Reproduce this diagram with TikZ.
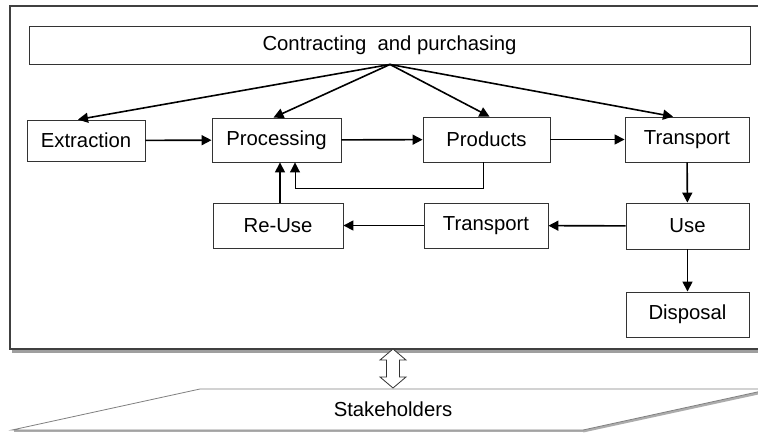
\documentclass[tikz,border=0pt]{standalone}
\usepackage{fontspec}
\setmainfont{Liberation Sans}
\usetikzlibrary{arrows.meta,calc}
\begin{document}
\begin{tikzpicture}[x=1pt,y=-1pt,
  every node/.style={font=\fontsize{20.3}{24}\selectfont},
  box/.style={draw=black!80,line width=0.9pt,fill=white,inner sep=0pt,text=black},
  arr/.style={draw=black,line width=1.6pt,-{Triangle[length=10pt,width=10pt]}},
  ]
\useasboundingbox (0,0) rectangle (758,432);
\clip (0,0) rectangle (758,432);
\fill[white] (0,0) rectangle (758,432);
% outer box with shadow
\draw[gray!75,line width=2.2pt] (12,351.5) -- (780,351.5);
\draw[black!75,line width=1.2pt,fill=white] (10,6) rectangle (780,349);
% nodes
\node[box,minimum width=721pt,minimum height=38pt] (cp) at (389.5,45) {Contracting~~and purchasing};
\node[box,minimum width=118pt,minimum height=41pt] (ext) at (86,140.5) {Extraction};
\node[box,minimum width=129pt,minimum height=44pt] (proc) at (276.5,140) {Processing};
\node[box,minimum width=127pt,minimum height=45pt] (prod) at (486.5,139.5) {Products};
\node[box,minimum width=124pt,minimum height=45pt] (tr1) at (687,139.5) {Transport};
\node[box,minimum width=130pt,minimum height=45pt] (reuse) at (278,225.5) {Re-Use};
\node[box,minimum width=124pt,minimum height=45pt] (tr2) at (486,225.5) {Transport};
\node[box,minimum width=123pt,minimum height=46pt] (use) at (687.5,226) {Use};
\node[box,minimum width=123pt,minimum height=45pt] (disp) at (687.5,314.5) {Disposal};
% arrows from contracting
\coordinate (apex) at ([xshift=0.5pt]cp.south);
\draw[arr] (apex) -- ([xshift=-8pt]ext.north);
\draw[arr] (apex) -- ([xshift=-3pt]proc.north);
\draw[arr] (apex) -- ([xshift=3pt]prod.north);
\draw[arr] (apex) -- ([xshift=-14pt]tr1.north);
% flow
\draw[arr] (ext) -- (proc);
\draw[arr] (proc) -- (prod);
\draw[arr] (prod) -- (tr1);
\draw[arr] (tr1) -- (use);
\draw[arr] (use) -- (disp);
\draw[arr] (use) -- (tr2);
\draw[arr] (tr2) -- (reuse);
\draw[arr] ([xshift=2pt]reuse.north) -- ([xshift=2pt]reuse.north |- proc.south);
\coordinate (fb) at (295,188);
\draw[draw=black,line width=1pt,-{Triangle[length=10pt,width=10pt]}] ([xshift=-3.5pt]prod.south) |- (fb) -- (fb |- proc.south);
% double arrow
\draw[black!80,line width=0.8pt,fill=white]
  (393,349) -- (406,360) -- (399.5,360) -- (399.5,377) -- (406,377) -- (393,388)
  -- (380,377) -- (386.5,377) -- (386.5,360) -- (380,360) -- cycle;
% stakeholders
\draw[gray!65,line width=3pt] (583,431) -- (772,390);
\draw[gray!65,line width=2pt] (14,431) -- (583,431);
\draw[gray,line width=0.8pt,fill=white] (12,430) -- (200,389) -- (771,389) -- (583,430) -- cycle;
\node[text=black] (sh) at (393,409) {Stakeholders};
\end{tikzpicture}
\end{document}
